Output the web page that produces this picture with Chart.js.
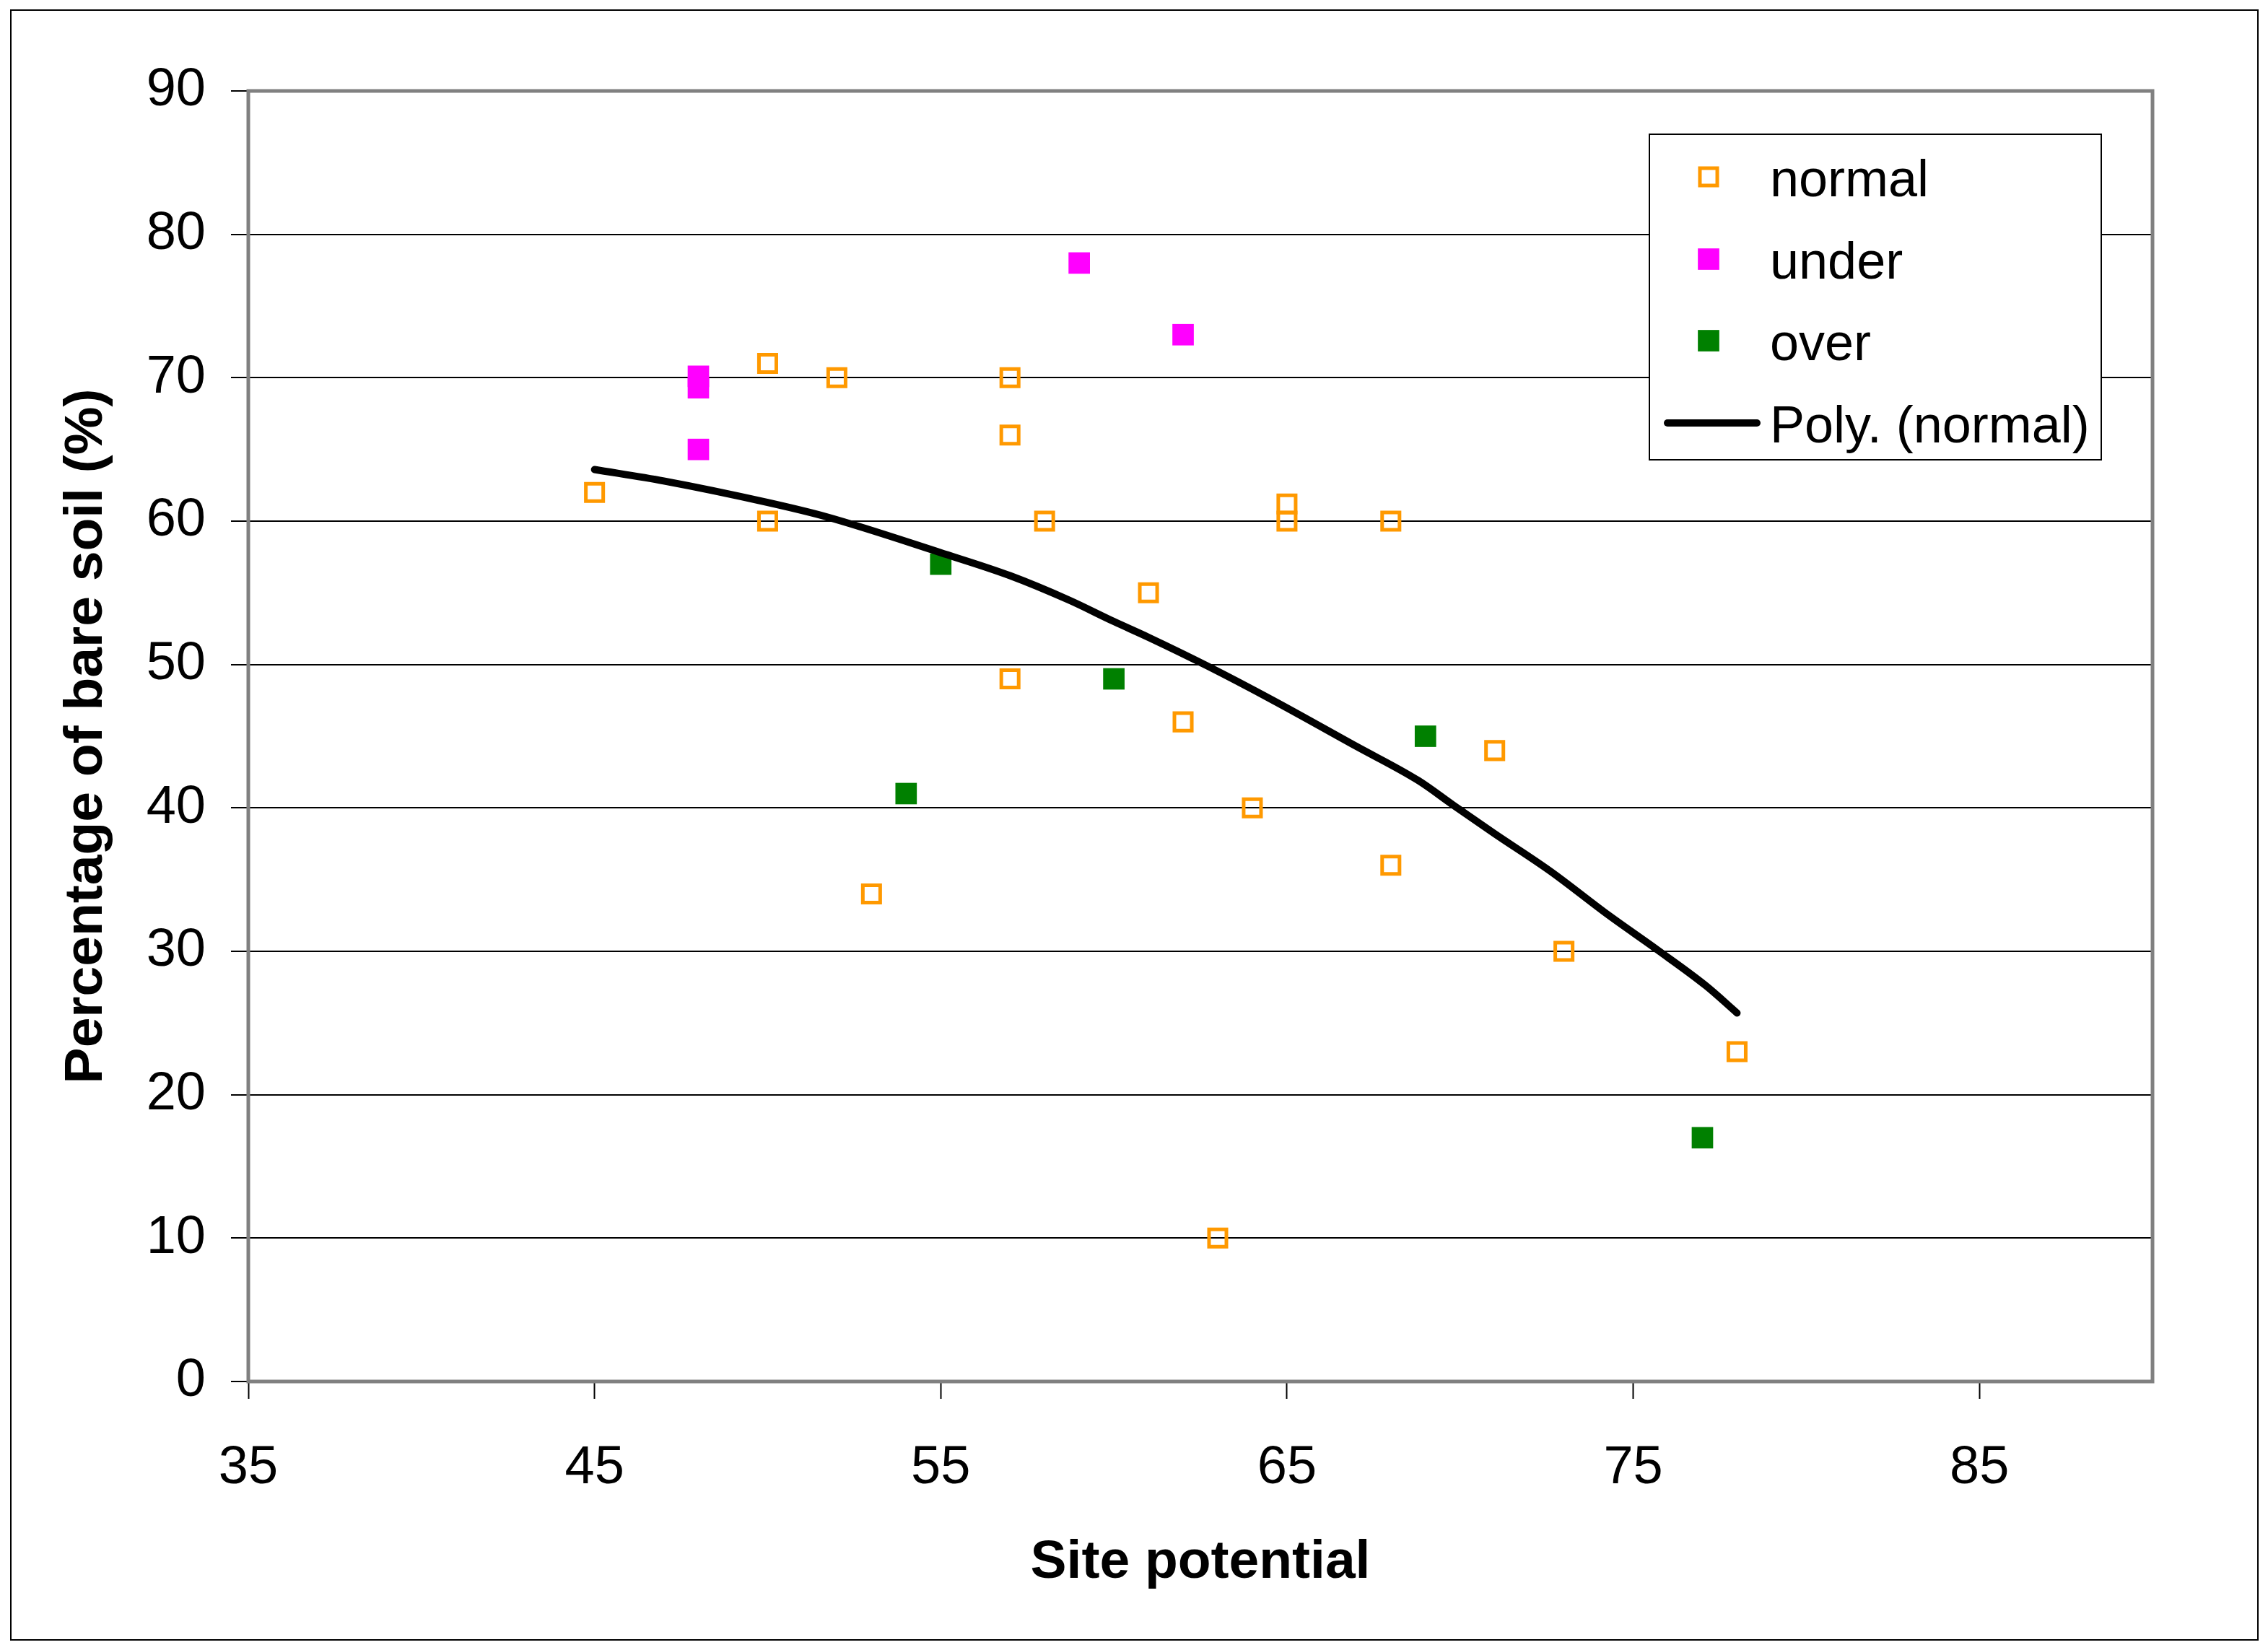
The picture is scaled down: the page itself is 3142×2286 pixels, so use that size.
<!DOCTYPE html>
<html>
<head>
<meta charset="utf-8">
<title>Percentage of bare soil vs site potential</title>
<script src="https://cdn.jsdelivr.net/npm/chart.js@4.4.1/dist/chart.umd.min.js"></script>
<style>
    html, body {
        margin: 0;
        padding: 0;
        background: #FFFFFF;
    }
    canvas {
        display: block;
    }
</style>
</head>
<body>
<canvas id="soilChart" width="3142" height="2286"></canvas>
<script>
// values
const normalX = [45, 50, 50, 52, 53, 57, 57, 57, 58, 61, 62, 63, 64, 65, 65, 68, 68, 71, 73, 78];
const normalY = [62, 71, 60, 70, 34, 70, 66, 49, 60, 55, 46, 10, 40, 61.2, 60, 60, 36, 44, 30, 23];

const underX = [48, 48, 48, 59, 62];
const underY = [70.1, 69.3, 65, 78, 73];

const overX = [54, 55, 60, 69, 77];
const overY = [41, 57, 49, 45, 17];

// trend line as drawn in the picture
const trendX = [45, 47, 50, 51.7, 55, 57, 58.7, 60, 61, 62.7, 64.6, 67, 68.8, 69.8, 71, 72.6, 74.3, 75.7, 77.1, 78];
const trendY = [63.6, 62.8, 61.3, 60.3, 57.8, 56.2, 54.5, 53.0, 51.9, 49.9, 47.5, 44.3, 41.9, 40.2, 38.2, 35.6, 32.5, 30.1, 27.6, 25.7];

const xTicks = [35, 45, 55, 65, 75, 85];
const yTicks = [0, 10, 20, 30, 40, 50, 60, 70, 80, 90];

const seriesNames = ['normal', 'under', 'over', 'Poly. (normal)'];

const FONT = "'Liberation Sans', Arial, sans-serif";

function toPoints(xs, ys) {
    return xs.map((x, i) => ({ x: x, y: ys[i] }));
}

// white page with thin outer frame
const pageFrame = {
    id: 'pageFrame',
    beforeDraw(chart) {
        const ctx = chart.ctx;
        ctx.save();
        ctx.fillStyle = '#FFFFFF';
        ctx.fillRect(0, 0, chart.width, chart.height);
        ctx.strokeStyle = '#000000';
        ctx.lineWidth = 2;
        ctx.strokeRect(15, 14, 3113, 2258);
        ctx.restore();
    }
};

// grey border round the plot area
const plotFrame = {
    id: 'plotFrame',
    beforeDatasetsDraw(chart) {
        const a = chart.chartArea;
        const ctx = chart.ctx;
        ctx.save();
        ctx.strokeStyle = '#808080';
        ctx.lineWidth = 5;
        ctx.strokeRect(a.left, a.top, a.right - a.left, a.bottom - a.top);
        ctx.restore();
    }
};

// legend box inside the plot, top right
const boxLegend = {
    id: 'boxLegend',
    afterDraw(chart) {
        const ctx = chart.ctx;
        const rows = [245, 359, 472, 586];
        ctx.save();
        ctx.fillStyle = '#FFFFFF';
        ctx.fillRect(2285, 186, 626, 451);
        ctx.strokeStyle = '#000000';
        ctx.lineWidth = 2;
        ctx.strokeRect(2285, 186, 626, 451);

        chart.data.datasets.forEach((ds, i) => {
            const y = rows[i];
            if (ds.showLine) {
                ctx.strokeStyle = ds.borderColor;
                ctx.lineWidth = ds.borderWidth;
                ctx.lineCap = 'round';
                ctx.beginPath();
                ctx.moveTo(2310, y);
                ctx.lineTo(2434, y);
                ctx.stroke();
            } else {
                const half = ds.pointRadius * Math.SQRT1_2;
                ctx.beginPath();
                ctx.rect(2367 - half, y - half, half * 2, half * 2);
                if (ds.pointBorderWidth > 0) {
                    ctx.strokeStyle = ds.pointBorderColor;
                    ctx.lineWidth = ds.pointBorderWidth;
                    ctx.stroke();
                } else {
                    ctx.fillStyle = ds.pointBackgroundColor;
                    ctx.fill();
                }
            }
            ctx.fillStyle = '#000000';
            ctx.font = '72px ' + FONT;
            ctx.textAlign = 'left';
            ctx.textBaseline = 'alphabetic';
            ctx.fillText(ds.label, 2452, y + 27);
        });
        ctx.restore();
    }
};

const ctx = document.getElementById('soilChart').getContext('2d');

new Chart(ctx, {
    type: 'scatter',
    data: {
        datasets: [
            {
                label: seriesNames[0],
                data: toPoints(normalX, normalY),
                pointStyle: 'rect',
                pointRadius: 17,
                pointBorderWidth: 5,
                pointBorderColor: '#FF9900',
                pointBackgroundColor: 'rgba(0,0,0,0)',
                order: 1
            },
            {
                label: seriesNames[1],
                data: toPoints(underX, underY),
                pointStyle: 'rect',
                pointRadius: 21,
                pointBorderWidth: 0,
                pointBorderColor: '#FF00FF',
                pointBackgroundColor: '#FF00FF',
                order: 1
            },
            {
                label: seriesNames[2],
                data: toPoints(overX, overY),
                pointStyle: 'rect',
                pointRadius: 21,
                pointBorderWidth: 0,
                pointBorderColor: '#008000',
                pointBackgroundColor: '#008000',
                order: 1
            },
            {
                label: seriesNames[3],
                data: toPoints(trendX, trendY),
                showLine: true,
                borderColor: '#000000',
                borderWidth: 10,
                borderCapStyle: 'round',
                borderJoinStyle: 'round',
                pointRadius: 0,
                cubicInterpolationMode: 'monotone',
                fill: false,
                order: 0
            }
        ]
    },
    options: {
        responsive: false,
        devicePixelRatio: 1,
        animation: false,
        events: [],
        layout: {
            padding: { left: 0, top: 126, right: 160, bottom: 0 }
        },
        plugins: {
            legend: { display: false },
            tooltip: { enabled: false }
        },
        scales: {
            x: {
                type: 'linear',
                position: 'bottom',
                min: 35,
                max: 90,
                afterBuildTicks: s => { s.ticks = xTicks.map(v => ({ value: v })); },
                afterFit: s => { s.height = 372; },
                ticks: {
                    color: '#000000',
                    font: { family: FONT, size: 74 },
                    padding: 52,
                    maxRotation: 0,
                    autoSkip: false
                },
                grid: {
                    drawOnChartArea: false,
                    tickLength: 24,
                    tickColor: '#000000',
                    tickWidth: 2
                },
                border: { display: false },
                title: {
                    display: true,
                    text: 'Site potential',
                    color: '#000000',
                    font: { family: FONT, size: 75, weight: 'bold' },
                    padding: { top: 0, bottom: 76 }
                }
            },
            y: {
                type: 'linear',
                min: 0,
                max: 90,
                afterBuildTicks: s => { s.ticks = yTicks.map(v => ({ value: v })); },
                afterFit: s => { s.width = 344; },
                ticks: {
                    color: '#000000',
                    font: { family: FONT, size: 74 },
                    padding: 35
                },
                grid: {
                    color: '#000000',
                    lineWidth: 2,
                    tickLength: 24,
                    tickColor: '#000000',
                    tickWidth: 2
                },
                border: { display: false },
                title: {
                    display: true,
                    text: 'Percentage of bare soil (%)',
                    color: '#000000',
                    font: { family: FONT, size: 75, weight: 'bold' },
                    padding: { top: 75, bottom: 0 }
                }
            }
        }
    },
    plugins: [pageFrame, plotFrame, boxLegend]
});
</script>
</body>
</html>
